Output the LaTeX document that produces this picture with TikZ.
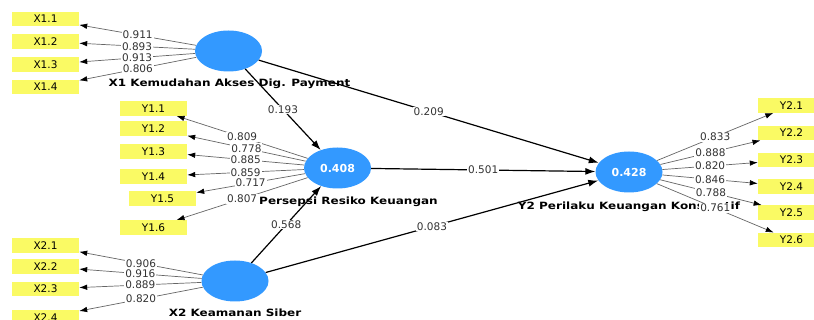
\documentclass[tikz,border=0pt]{standalone}
\usepackage{fontspec}
\setmainfont{DejaVu Sans}
\newfontfamily\lvfont{DejaVu Sans}[FakeStretch=1.2]
\usetikzlibrary{shapes.geometric,arrows.meta}
\definecolor{lvblue}{RGB}{51,153,255}
\definecolor{mvyellow}{RGB}{250,250,100}
\begin{document}
\begin{tikzpicture}[x=1pt,y=-1pt,
        mv/.style={fill=mvyellow,minimum width=67pt,minimum height=14.5pt,inner sep=0pt,font=\fontsize{10.5}{12}\selectfont},
        lv/.style={ellipse,fill=lvblue,minimum width=67pt,minimum height=41pt,inner sep=0pt,text=white,font=\fontsize{11}{12}\selectfont\bfseries},
        lvname/.style={inner sep=0pt,font=\lvfont\fontsize{10}{12}\selectfont\bfseries},
        coef/.style={fill=white,inner sep=1pt,text=black!80,font=\fontsize{10.5}{12}\selectfont},
        load/.style={draw=black!60,line width=0.7pt,-{Latex[length=8pt,width=5.5pt,color=black]}},
        effect/.style={draw=black,line width=1.2pt,-{Latex[length=10pt,width=7pt]}}]
    \useasboundingbox[fill=white] (0,0) rectangle (814,320);
    \clip (0,0) rectangle (814,320);
    \node[lv] (x1) at (228.5,51) {};
    \node[lv] (prk) at (337.5,168) {0.408};
    \node[lv] (x2) at (235,281) {};
    \node[lv] (y2) at (629,172) {0.428};
    \node[mv] (x11) at (45.5,19) {X1.1};
    \node[mv] (x12) at (45.5,41.5) {X1.2};
    \node[mv] (x13) at (45.5,64.5) {X1.3};
    \node[mv] (x14) at (45.5,87) {X1.4};
    \node[mv] (y11) at (153.5,108.5) {Y1.1};
    \node[mv] (y12) at (153.5,128.5) {Y1.2};
    \node[mv] (y13) at (153.5,151.5) {Y1.3};
    \node[mv] (y14) at (153.5,176.5) {Y1.4};
    \node[mv] (y15) at (162.5,198.5) {Y1.5};
    \node[mv] (y16) at (153.5,227.5) {Y1.6};
    \node[mv] (x21) at (45.5,245.5) {X2.1};
    \node[mv] (x22) at (45.5,266.5) {X2.2};
    \node[mv] (x23) at (45.5,289) {X2.3};
    \node[mv] (x24) at (45.5,317.5) {X2.4};
    \node[mv] (y21) at (791.5,105.5) {Y2.1};
    \node[mv] (y22) at (791.5,133) {Y2.2};
    \node[mv] (y23) at (791.5,160) {Y2.3};
    \node[mv] (y24) at (791.5,186.5) {Y2.4};
    \node[mv] (y25) at (791.5,212.5) {Y2.5};
    \node[mv] (y26) at (791.5,240) {Y2.6};
    \node[lvname] (x1name) at (229.5,84) {X1 Kemudahan Akses Dig. Payment};
    \node[lvname] (prkname) at (348.5,202) {Persepsi Resiko Keuangan};
    \node[lvname] (x2name) at (235,313) {X2 Keamanan Siber};
    \node[lvname] (y2name) at (629,207) {Y2 Perilaku Keuangan Konsumtif};
    \draw[load] (x1) -- node[coef] {0.911} (x11);
    \draw[load] (x1) -- node[coef] {0.893} (x12);
    \draw[load] (x1) -- node[coef] {0.913} (x13);
    \draw[load] (x1) -- node[coef] {0.806} (x14);
    \draw[load] (prk) -- node[coef] {0.809} (y11);
    \draw[load] (prk) -- node[coef] {0.778} (y12);
    \draw[load] (prk) -- node[coef] {0.885} (y13);
    \draw[load] (prk) -- node[coef] {0.859} (y14);
    \draw[load] (prk) -- node[coef] {0.717} (y15);
    \draw[load] (prk) -- node[coef] {0.807} (y16);
    \draw[load] (x2) -- node[coef] {0.906} (x21);
    \draw[load] (x2) -- node[coef] {0.916} (x22);
    \draw[load] (x2) -- node[coef] {0.889} (x23);
    \draw[load] (x2) -- node[coef] {0.820} (x24);
    \draw[load] (y2) -- node[coef] {0.833} (y21);
    \draw[load] (y2) -- node[coef] {0.888} (y22);
    \draw[load] (y2) -- node[coef] {0.820} (y23);
    \draw[load] (y2) -- node[coef] {0.846} (y24);
    \draw[load] (y2) -- node[coef] {0.788} (y25);
    \draw[load] (y2) -- node[coef] {0.761} (y26);
    \draw[effect] (x1) -- node[coef] {0.193} (prk);
    \draw[effect] (x1) -- node[coef] {0.209} (y2);
    \draw[effect] (prk) -- node[coef] {0.501} (y2);
    \draw[effect] (x2) -- node[coef] {0.568} (prk);
    \draw[effect] (x2) -- node[coef] {0.083} (y2);
\end{tikzpicture}
\end{document}
